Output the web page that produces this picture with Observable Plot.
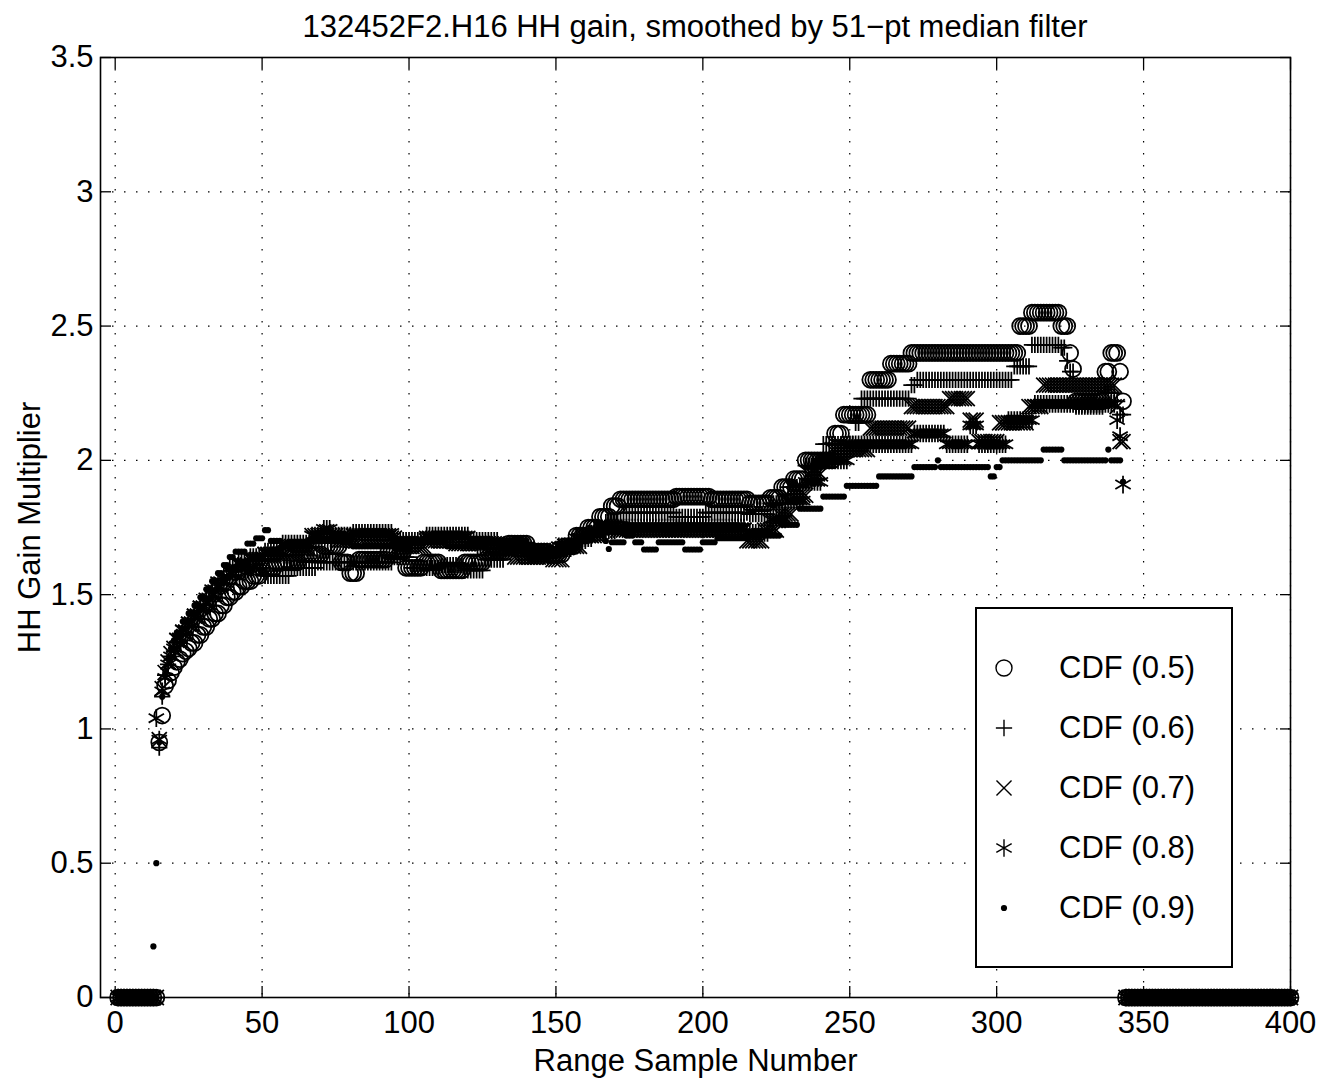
<!DOCTYPE html>
<html>
<head>
<meta charset="utf-8">
<script src="https://cdn.jsdelivr.net/npm/d3@7"></script>
<script src="https://cdn.jsdelivr.net/npm/@observablehq/plot@0.6"></script>
<style>
  body { margin: 0; background: #fff; }
  #wrap { position: relative; width: 1335px; height: 1080px; font-family: "Liberation Sans", Arial, Helvetica, sans-serif; color: #000; }
  #title { height: 45px; box-sizing: border-box; padding-left: 100px; padding-right: 45px; text-align: center; font-size: 31px; line-height: 54px; white-space: nowrap; overflow: visible; }
  #legend { position: absolute; left: 975px; top: 607px; width: 258px; height: 361px; box-sizing: border-box; border: 2px solid #000; background: #fff; }
  .row { position: absolute; left: 0; height: 40px; width: 254px; }
  .row svg { position: absolute; left: 7px; top: 0; }
  .row span { position: absolute; left: 82px; top: 0; line-height: 40px; font-size: 31px; white-space: nowrap; }
</style>
</head>
<body>
<div id="wrap">
  <div id="title"></div>
  <div id="chart"></div>
  <div id="legend"></div>
</div>
<script>
const titleText = "132452F2.H16 HH gain, smoothed by 51\u2212pt median filter";
const xLabel = "Range Sample Number";
const yLabel = "HH Gain Multiplier";
const xTicks = [0, 50, 100, 150, 200, 250, 300, 350, 400];
const xTickLabels = ["0", "50", "100", "150", "200", "250", "300", "350", "400"];
const yTicks = [0, 0.5, 1, 1.5, 2, 2.5, 3, 3.5];
const yTickLabels = ["0", "0.5", "1", "1.5", "2", "2.5", "3", "3.5"];
const seriesNames = ["CDF (0.5)", "CDF (0.6)", "CDF (0.7)", "CDF (0.8)", "CDF (0.9)"];
const sampleCount = 400; // range samples 1..400; value 0 outside the runs below

// runs: [first sample, last sample, gain]
const cdf05 = [[15,15,0.95],[16,16,1.05],[17,17,1.16],[18,18,1.18],[19,19,1.21],[20,20,1.23],[21,21,1.25],[22,22,1.26],[23,23,1.28],[24,24,1.29],[25,25,1.30],[26,27,1.32],[28,29,1.35],[30,31,1.38],[32,33,1.41],[34,35,1.43],[36,37,1.46],[38,39,1.49],[40,41,1.51],[42,43,1.53],[44,46,1.55],[47,49,1.57],[50,54,1.60],[55,62,1.62],[63,70,1.65],[71,76,1.68],[77,79,1.62],[80,82,1.58],[83,92,1.63],[93,98,1.66],[99,104,1.60],[105,110,1.62],[111,118,1.59],[119,125,1.62],[126,133,1.66],[134,140,1.69],[141,147,1.66],[148,152,1.65],[153,156,1.68],[157,160,1.72],[161,164,1.75],[165,168,1.79],[169,171,1.83],[172,190,1.855],[191,202,1.865],[203,215,1.855],[216,222,1.84],[223,226,1.86],[227,230,1.90],[231,234,1.93],[235,244,2.0],[245,247,2.10],[248,256,2.17],[257,263,2.30],[264,270,2.36],[271,307,2.40],[308,311,2.50],[312,321,2.55],[322,324,2.50],[325,325,2.40],[326,326,2.34],[327,336,2.22],[337,338,2.33],[339,341,2.40],[342,342,2.33],[343,343,2.22]];
const cdf06 = [[15,15,0.93],[16,16,1.12],[17,17,1.20],[18,18,1.24],[19,19,1.27],[20,20,1.29],[21,22,1.32],[23,24,1.35],[25,26,1.38],[27,28,1.41],[29,30,1.44],[31,32,1.46],[33,34,1.49],[35,36,1.52],[37,38,1.54],[39,41,1.57],[42,45,1.59],[46,50,1.60],[51,59,1.57],[60,68,1.60],[69,94,1.62],[95,100,1.64],[101,110,1.60],[111,118,1.61],[119,125,1.59],[126,132,1.63],[133,140,1.67],[141,149,1.65],[150,155,1.67],[156,160,1.70],[161,166,1.73],[167,172,1.77],[173,190,1.805],[191,200,1.79],[201,215,1.805],[216,222,1.80],[223,228,1.84],[229,234,1.90],[235,240,1.98],[241,251,2.06],[252,253,2.14],[254,270,2.23],[271,272,2.28],[273,305,2.30],[306,311,2.35],[312,321,2.43],[322,323,2.42],[324,324,2.37],[325,326,2.33],[327,336,2.20],[337,340,2.25],[341,341,2.22],[342,343,2.17]];
const cdf07 = [[15,15,0.96],[16,16,1.15],[17,17,1.21],[18,18,1.25],[19,19,1.28],[20,20,1.30],[21,22,1.33],[23,24,1.36],[25,26,1.39],[27,28,1.42],[29,30,1.45],[31,32,1.47],[33,34,1.50],[35,36,1.53],[37,38,1.55],[39,41,1.58],[42,45,1.61],[46,50,1.63],[51,58,1.65],[59,66,1.67],[67,75,1.72],[76,82,1.70],[83,95,1.71],[96,105,1.68],[106,115,1.70],[116,125,1.69],[126,135,1.67],[136,148,1.64],[149,152,1.63],[153,158,1.68],[159,164,1.72],[165,170,1.75],[171,214,1.74],[215,220,1.70],[221,225,1.74],[226,230,1.80],[231,235,1.87],[236,240,1.95],[241,243,2.00],[244,256,2.04],[257,270,2.12],[271,283,2.20],[284,290,2.23],[291,293,2.15],[294,300,2.07],[301,310,2.14],[311,315,2.20],[316,340,2.28],[341,341,2.20],[342,343,2.07]];
const cdf08 = [[14,14,1.04],[15,15,0.96],[16,16,1.14],[17,17,1.19],[18,18,1.24],[19,19,1.27],[20,20,1.30],[21,22,1.34],[23,24,1.37],[25,26,1.40],[27,28,1.43],[29,30,1.46],[31,32,1.49],[33,34,1.52],[35,36,1.55],[37,38,1.57],[39,41,1.60],[42,45,1.62],[46,50,1.64],[51,56,1.66],[57,66,1.69],[67,70,1.72],[71,73,1.745],[74,80,1.72],[81,94,1.73],[95,105,1.70],[106,120,1.72],[121,130,1.70],[131,140,1.68],[141,150,1.66],[151,156,1.68],[157,162,1.71],[163,170,1.74],[171,214,1.75],[215,222,1.73],[223,228,1.78],[229,234,1.85],[235,240,1.92],[241,249,2.00],[250,271,2.06],[272,282,2.10],[283,290,2.06],[291,293,2.13],[294,303,2.06],[304,312,2.15],[313,340,2.21],[341,341,2.15],[342,342,2.09],[343,343,1.91]];
const cdf09 = [[13,13,0.19],[14,14,0.50],[15,15,0.95],[16,16,1.12],[17,17,1.20],[18,18,1.26],[19,19,1.30],[20,20,1.33],[21,22,1.36],[23,24,1.40],[25,26,1.43],[27,28,1.46],[29,30,1.49],[31,32,1.52],[33,34,1.55],[35,36,1.58],[37,38,1.61],[39,40,1.64],[41,44,1.66],[45,47,1.69],[48,50,1.71],[51,52,1.74],[53,56,1.70],[57,66,1.68],[67,80,1.70],[81,100,1.68],[101,112,1.70],[113,125,1.68],[126,140,1.70],[141,150,1.67],[151,158,1.69],[159,166,1.72],[167,167,1.70],[168,168,1.67],[169,173,1.695],[174,176,1.72],[177,179,1.695],[180,184,1.668],[185,193,1.695],[194,199,1.668],[200,204,1.695],[205,215,1.71],[216,226,1.72],[227,232,1.76],[233,240,1.82],[241,248,1.865],[249,259,1.905],[260,271,1.94],[272,279,1.975],[280,280,2.0],[281,297,1.975],[298,299,1.94],[300,301,1.975],[302,315,2.0],[316,322,2.04],[323,337,2.0],[338,338,2.04],[339,342,2.0],[343,343,1.92]];

const seriesRuns = [cdf05, cdf06, cdf07, cdf08, cdf09];

function expand(runs) {
  const vals = new Array(sampleCount).fill(0);
  for (const [a, b, v] of runs) for (let i = a; i <= b; i++) vals[i - 1] = v;
  return vals.map((v, i) => ({x: i + 1, y: v}));
}
const seriesData = seriesRuns.map(expand);

// marker styles
const markerSpecs = [
  {symbol: "circle", r: 8, fill: "none", stroke: "black"},
  {symbol: "plus", r: 5.3, fill: "none", stroke: "black"},
  {symbol: "times", r: 6.9, fill: "none", stroke: "black"},
  {symbol: "asterisk", r: 8.4, fill: "none", stroke: "black"},
  {symbol: "circle", r: 3.1, fill: "black", stroke: "none"}
];
const markerStroke = 1.75;

const gridStyle = {stroke: "black", strokeOpacity: 1, strokeWidth: 1.2, strokeDasharray: "1.5,10.5"};
const tickStyle = {tickSize: -11, tickFormat: () => "", label: null, strokeWidth: 1.3};

document.getElementById("title").textContent = titleText;

const chart = Plot.plot({
  width: 1335,
  height: 1035,
  marginLeft: 100,
  marginRight: 45,
  marginTop: 12,
  marginBottom: 83,
  x: {domain: [-5, 400]},
  y: {domain: [0, 3.5]},
  style: {fontFamily: "'Liberation Sans', Arial, Helvetica, sans-serif", fontSize: "31px", color: "black", background: "white", overflow: "visible"},
  marks: [
    Plot.gridX(xTicks, gridStyle),
    Plot.gridY(yTicks, gridStyle),
    ...seriesData.map((d, k) => Plot.dot(d, {x: "x", y: "y", symbol: markerSpecs[k].symbol, r: markerSpecs[k].r, fill: markerSpecs[k].fill, stroke: markerSpecs[k].stroke, strokeWidth: markerStroke})),
    Plot.axisX(xTicks, {anchor: "bottom", tickSize: 0, tickPadding: 13, label: null, tickFormat: (d) => xTickLabels[xTicks.indexOf(d)]}),
    Plot.axisY(yTicks, {anchor: "left", tickSize: 0, tickPadding: 7, label: null, tickFormat: (d) => yTickLabels[yTicks.indexOf(d)]}),
    Plot.axisX(xTicks, {anchor: "bottom", ...tickStyle}),
    Plot.axisX(xTicks, {anchor: "top", ...tickStyle}),
    Plot.axisY(yTicks, {anchor: "left", ...tickStyle}),
    Plot.axisY(yTicks, {anchor: "right", ...tickStyle}),
    Plot.frame({stroke: "black", strokeWidth: 1.6}),
    Plot.text([xLabel], {frameAnchor: "bottom", dy: 73, fontSize: 31, text: d => d}),
    Plot.text([yLabel], {frameAnchor: "left", dx: -70, rotate: -90, textAnchor: "middle", fontSize: 31, text: d => d})
  ]
});
document.getElementById("chart").appendChild(chart);

// legend (inside the axes, lower right)
const legend = document.getElementById("legend");
seriesNames.forEach((name, k) => {
  const row = document.createElement("div");
  row.className = "row";
  row.style.top = (39 + k * 60) + "px";
  const spec = markerSpecs[k];
  const svg = d3.create("svg").attr("width", 40).attr("height", 40);
  const g = svg.append("g").attr("transform", "translate(20,20)");
  if (spec.symbol === "circle") {
    g.append("circle").attr("r", spec.r).attr("fill", spec.fill).attr("stroke", spec.stroke).attr("stroke-width", 1.4);
  } else {
    const sym = {plus: d3.symbolPlus, times: d3.symbolTimes, asterisk: d3.symbolAsterisk}[spec.symbol];
    g.append("path").attr("d", d3.symbol(sym, spec.r * spec.r * Math.PI)()).attr("fill", "none").attr("stroke", "black").attr("stroke-width", 1.4);
  }
  row.appendChild(svg.node());
  const span = document.createElement("span");
  span.textContent = name;
  row.appendChild(span);
  legend.appendChild(row);
});
</script>
</body>
</html>
